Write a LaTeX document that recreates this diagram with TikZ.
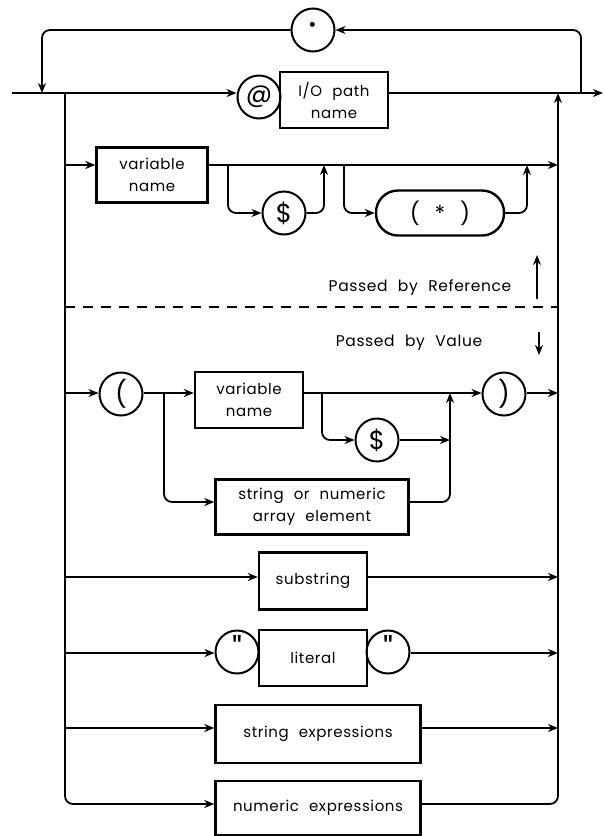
\documentclass[tikz,border=0pt]{standalone}
\usepackage{fontspec}
\setmainfont{Poppins}[LetterSpace=4, WordSpace=2.2]
\usetikzlibrary{arrows.meta}
\tikzset{
  box/.style={draw, line width=2.4pt, align=center, inner sep=0pt, font=\fontsize{15}{22}\selectfont},
  term/.style={draw, circle, line width=2pt, inner sep=0pt, minimum size=43pt, font=\fontsize{26}{28}\selectfont},
  quot/.style={term, font=\fontsize{34}{34}\selectfont},
  flow/.style={line width=1.8pt, rounded corners=8pt},
  arr/.style={flow, -{Stealth[length=10pt, width=8pt]}},
  note/.style={font=\fontsize{15.5}{18}\selectfont},
}
\begin{document}
\begin{tikzpicture}[x=1pt, y=-1pt]
    \useasboundingbox (0,0) rectangle (605,836);
    \node[term, font=\fontsize{40}{40}\selectfont] (dot) at (313,30) {·};
    \node[term] (at) at (259,97) {@};
    \node[box, minimum width=108pt, minimum height=56pt] (io) at (334,100) {I/O path\\name};
    \node[box, minimum width=111pt, minimum height=55pt] (var1) at (152,175) {variable\\name};
    \node[term] (dol1) at (284,213) {\$};
    \node[box, rounded corners=22pt, minimum width=128pt, minimum height=45pt, font=\fontsize{22}{24}\selectfont] (star) at (440,213) {( * )};
    \node[note] (ref) at (420,288) {Passed by Reference};
    \node[note] (val) at (409,343) {Passed by Value};
    \node[term] (lp) at (121,394) {(};
    \node[box, minimum width=108pt, minimum height=56pt] (var2) at (249,400) {variable\\name};
    \node[term] (dol2) at (377,440) {\$};
    \node[term] (rp) at (504,394) {)};
    \node[box, minimum width=193pt, minimum height=55pt] (elem) at (312,507) {string or numeric\\array element};
    \node[box, minimum width=108pt, minimum height=57pt] (sub) at (313,581) {substring};
    \node[quot] (q1) at (237,652) {\raisebox{6pt}{\textquotedbl}};
    \node[box, minimum width=108pt, minimum height=56pt] (lit) at (313,658) {literal};
    \node[quot] (q2) at (388,652) {\raisebox{6pt}{\textquotedbl}};
    \node[box, minimum width=205pt, minimum height=58pt] (sexp) at (318,734) {string expressions};
    \node[box, minimum width=205pt, minimum height=54pt] (nexp) at (318,808) {numeric expressions};

    \coordinate (in) at (12,93);
    \coordinate (out) at (603,93);
    \coordinate (ll) at (42,93);
    \coordinate (lr) at (581,93);
    \coordinate (rail) at (65,93);
    \coordinate (rrail) at (558,93);
    \foreach \r/\y in {y2/165, y3/393, y4/577, y5/653, y6/728, y7/804}
        \coordinate (\r) at (65,\y);

    \draw[arr] (in) -- (in -| at.west);
    \draw[arr] (in -| io.east) -- (out);
    \draw[arr] (lr) |- (dot.east);
    \draw[arr] (dot.west) -| (ll);

    \draw[arr] (rail) |- (y7 -| nexp.west);
    \draw[arr] (y7 -| nexp.east) -| (rrail);
    \foreach \r/\n in {y2/var1, y3/lp, y4/sub, y5/q1, y6/sexp}
        \draw[arr] (\r) -- (\r -| \n.west);
    \foreach \r/\n in {y2/var1, y3/rp, y4/sub, y5/q2, y6/sexp}
        \draw[arr] (\r -| \n.east) -- (\r -| rrail);

    \coordinate (d1) at (228,165);
    \coordinate (u1) at (324,165);
    \coordinate (d2) at (344,165);
    \coordinate (u2) at (527,165);
    \draw[arr] (d1) |- (dol1.west);
    \draw[arr] (dol1.east) -| (u1);
    \draw[arr] (d2) |- (star.west);
    \draw[arr] (star.east) -| (u2);

    \coordinate (split) at (65,307);
    \draw[line width=1.6pt, dash pattern=on 10pt off 8pt] (split) -- (split -| rrail);
    \coordinate (refup) at (537,255);
    \coordinate (valdn) at (539,355);
    \draw[arr] (refup |- ref.south) -- (refup);
    \draw[arr] (valdn |- val.north) -- (valdn);

    \draw[arr] (y3 -| lp.east) -- (y3 -| var2.west);
    \draw[arr] (y3 -| var2.east) -- (y3 -| rp.west);
    \coordinate (d3) at (164,393);
    \coordinate (e) at (164,502);
    \coordinate (m) at (450,393);
    \coordinate (d4) at (322,393);
    \draw[arr] (d3) |- (e -| elem.west);
    \draw[arr] (e -| elem.east) -| (m);
    \draw[arr] (d4) |- (dol2.west);
    \draw[arr] (dol2.east) -- (dol2.east -| m);
\end{tikzpicture}
\end{document}
